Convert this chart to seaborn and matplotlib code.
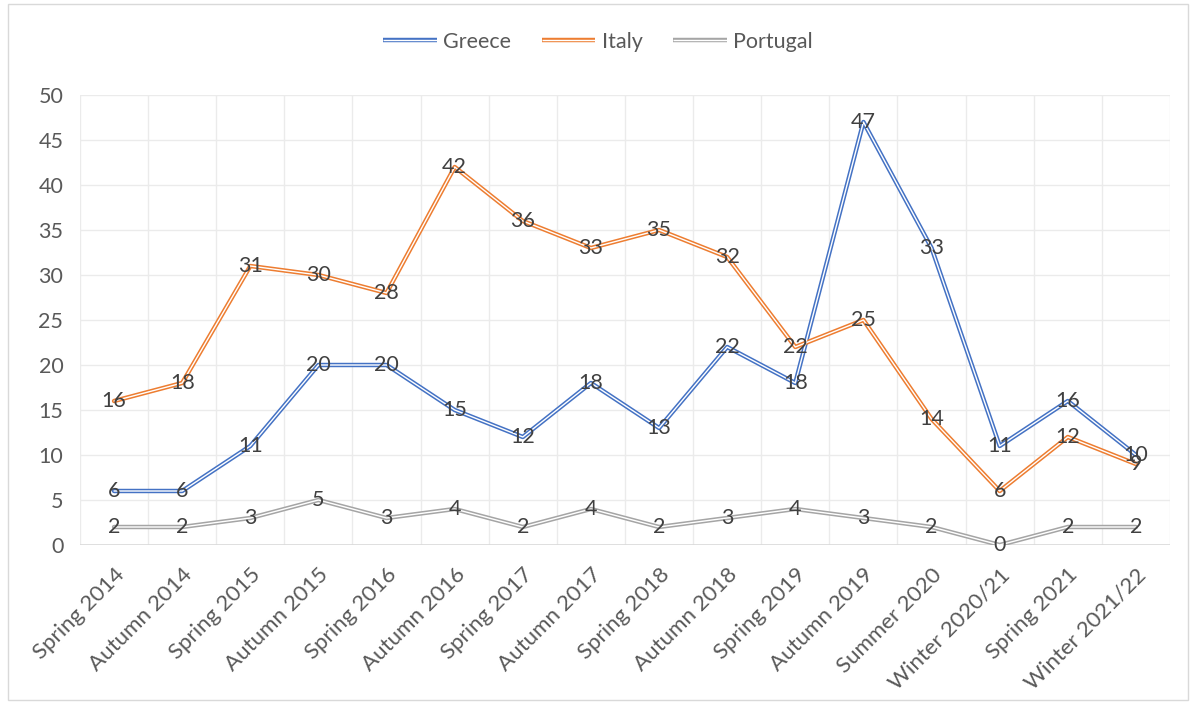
import matplotlib
matplotlib.use("Agg")
import matplotlib.pyplot as plt
import seaborn as sns
import pandas as pd
from matplotlib.patches import Rectangle
from matplotlib.lines import Line2D
from matplotlib.legend_handler import HandlerTuple

periods = ["Spring 2014", "Autumn 2014", "Spring 2015", "Autumn 2015", "Spring 2016",
           "Autumn 2016", "Spring 2017", "Autumn 2017", "Spring 2018", "Autumn 2018",
           "Spring 2019", "Autumn 2019", "Summer 2020", "Winter 2020/21", "Spring 2021",
           "Winter 2021/22"]
greece = [6, 6, 11, 20, 20, 15, 12, 18, 13, 22, 18, 47, 33, 11, 16, 10]
italy = [16, 18, 31, 30, 28, 42, 36, 33, 35, 32, 22, 25, 14, 6, 12, 9]
portugal = [2, 2, 3, 5, 3, 4, 2, 4, 2, 3, 4, 3, 2, 0, 2, 2]

series = {"Greece": greece, "Italy": italy, "Portugal": portugal}
colors = {"Greece": "#4472C4", "Italy": "#ED7D31", "Portugal": "#A5A5A5"}

sns.set_theme(style="white")
plt.rcParams['font.family'] = ['Lato', 'DejaVu Sans']

rows = []
for name, vals in series.items():
    for i, v in enumerate(vals):
        rows.append({"pos": i, "period": periods[i], "value": v, "country": name})
df = pd.DataFrame(rows)

fig = plt.figure(figsize=(11.96, 7.04), dpi=100)
ax = fig.add_axes([80 / 1196, (704 - 545) / 704, 1090 / 1196, 450 / 704])

# double line look: thick coloured line with a thin white line on top
sns.lineplot(data=df, x="pos", y="value", hue="country", palette=colors,
             linewidth=3.2, ax=ax, legend=False, zorder=3)
sns.lineplot(data=df, x="pos", y="value", units="country", estimator=None,
             color="white", linewidth=1.0, ax=ax, legend=False, zorder=4)

for name, vals in series.items():
    for i, v in enumerate(vals):
        ax.text(i, v, str(v), ha="center", va="center", fontsize=15.5,
                color="#404040", zorder=5)

ax.set_xlim(-0.5, len(periods) - 0.5)
ax.set_ylim(0, 50)
ax.set_yticks(range(0, 51, 5))
ax.set_xticks(range(len(periods)))
ax.set_xticklabels(periods, rotation=45, ha="right", rotation_mode="anchor",
                   fontsize=16, color="#595959")
ax.tick_params(axis="y", labelsize=15.5, labelcolor="#595959", length=0, pad=12)
ax.tick_params(axis="x", length=0, pad=14)

for y in range(5, 51, 5):
    ax.axhline(y, color="#EBEBEB", linewidth=1, zorder=1)
for x in range(len(periods) + 1):
    ax.axvline(x - 0.5, color="#EBEBEB", linewidth=1, zorder=1)
ax.axhline(0, color="#D9D9D9", linewidth=1.2, zorder=2)

for s in ax.spines.values():
    s.set_visible(False)
ax.set_xlabel("")
ax.set_ylabel("")

# legend
handles = []
for name in series:
    handles.append((Line2D([], [], color=colors[name], linewidth=3.2, solid_capstyle="butt"),
                    Line2D([], [], color="white", linewidth=1.0, solid_capstyle="butt")))
fig.legend(handles, list(series.keys()), loc="center", bbox_to_anchor=(0.5, 1 - 42 / 704),
           ncol=3, frameon=False, fontsize=15.5, labelcolor="#595959",
           handler_map={tuple: HandlerTuple(ndivide=1, pad=0)},
           handlelength=2.5, columnspacing=1.4, handletextpad=0.3)

fig.patches.append(Rectangle((8 / 1196, 4 / 704), 1180 / 1196, 696 / 704,
                             transform=fig.transFigure, fill=False,
                             edgecolor="#D9D9D9", linewidth=1))

fig.savefig("out.png", dpi=100)
